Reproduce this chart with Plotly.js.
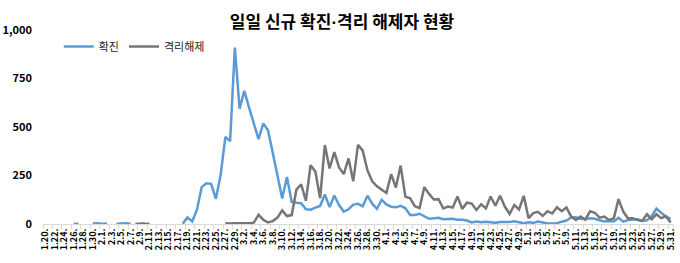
<!DOCTYPE html>
<html>
<head>
<meta charset="utf-8">
<script src="https://cdn.plot.ly/plotly-3.0.1.min.js"></script>
<style>
  html, body { margin: 0; padding: 0; background: #fff; }
  #chart { width: 680px; height: 263px; }
</style>
</head>
<body>
<div id="chart"></div>
<script>
// Categories (dates, 2020)
const dates = [
  "1.20.","1.21.","1.22.","1.23.","1.24.","1.25.","1.26.","1.27.","1.28.","1.29.","1.30.","1.31.",
  "2.1.","2.2.","2.3.","2.4.","2.5.","2.6.","2.7.","2.8.","2.9.","2.10.","2.11.","2.12.","2.13.","2.14.","2.15.","2.16.","2.17.","2.18.","2.19.","2.20.","2.21.","2.22.","2.23.","2.24.","2.25.","2.26.","2.27.","2.28.","2.29.",
  "3.1.","3.2.","3.3.","3.4.","3.5.","3.6.","3.7.","3.8.","3.9.","3.10.","3.11.","3.12.","3.13.","3.14.","3.15.","3.16.","3.17.","3.18.","3.19.","3.20.","3.21.","3.22.","3.23.","3.24.","3.25.","3.26.","3.27.","3.28.","3.29.","3.30.","3.31.",
  "4.1.","4.2.","4.3.","4.4.","4.5.","4.6.","4.7.","4.8.","4.9.","4.10.","4.11.","4.12.","4.13.","4.14.","4.15.","4.16.","4.17.","4.18.","4.19.","4.20.","4.21.","4.22.","4.23.","4.24.","4.25.","4.26.","4.27.","4.28.","4.29.","4.30.",
  "5.1.","5.2.","5.3.","5.4.","5.5.","5.6.","5.7.","5.8.","5.9.","5.10.","5.11.","5.12.","5.13.","5.14.","5.15.","5.16.","5.17.","5.18.","5.19.","5.20.","5.21.","5.22.","5.23.","5.24.","5.25.","5.26.","5.27.","5.28.","5.29.","5.30.","5.31."
];

// 확진 (new confirmed) — null = no entry
const confirmed = [
  1,null,null,null,1,null,1,1,null,null,3,4,
  1,3,null,1,3,4,1,null,3,1,null,null,null,null,null,2,null,1,34,13,74,190,210,207,130,253,449,427,909,
  595,686,600,516,438,518,483,367,248,131,242,114,110,107,76,74,84,93,152,87,147,98,64,76,100,104,91,146,105,78,125,
  101,89,86,94,81,47,47,53,39,27,30,32,25,27,27,22,22,18,8,13,9,11,8,6,10,10,10,14,9,4,
  9,6,13,8,3,2,4,12,18,34,35,27,26,29,27,19,13,15,13,32,12,20,23,25,16,19,40,79,58,39,27
];

// 격리해제 (released from isolation)
const released = [
  null,null,null,null,null,null,null,null,null,null,null,null,
  null,null,null,null,null,null,null,1,1,1,1,null,null,null,null,null,null,null,null,null,null,null,null,null,null,null,4,2,4,
  3,3,4,7,47,22,8,15,33,70,41,46,177,204,120,303,270,133,407,286,370,292,257,338,220,408,378,276,220,194,175,
  160,257,188,301,141,132,92,82,190,155,126,128,80,90,85,142,78,110,105,72,102,80,142,94,146,90,52,98,75,145,
  30,56,63,42,66,54,86,66,85,38,21,38,22,66,58,33,38,21,29,128,64,29,30,21,16,50,25,50,30,40,8
];

const yTicks = [0, 250, 500, 750, 1000];
const yTickText = ["0", "250", "500", "750", "1,000"];
const xTickVals = dates.filter((d, i) => i % 2 === 0);

const FONT = "'Noto Sans CJK KR', 'Noto Sans', sans-serif";

const traces = [
  { x: dates, y: confirmed, name: "확진", type: "scatter", mode: "lines",
    line: { color: "#5B9BD5", width: 2.5 }, connectgaps: false },
  { x: dates, y: released, name: "격리해제", type: "scatter", mode: "lines",
    line: { color: "#767676", width: 2.5 }, connectgaps: false }
];

const layout = {
  width: 680, height: 263,
  margin: { l: 43, r: 7, t: 30, b: 39 },
  paper_bgcolor: "#fff", plot_bgcolor: "#fff",
  font: { family: FONT, color: "#000" },
  title: {
    text: "<b>일일 신규 확진<span style=\"font-family:'Liberation Sans'\">·</span>격리 해제자 현황</b>",
    font: { family: FONT, size: 17, color: "#000" },
    x: 0.503, xref: "container", xanchor: "center",
    y: 0.915, yref: "container", yanchor: "middle"
  },
  showlegend: true,
  legend: {
    orientation: "h", x: 0.025, xanchor: "left", y: 0.915, yanchor: "middle",
    font: { family: FONT, size: 11, color: "#222" },
    bgcolor: "rgba(0,0,0,0)", itemwidth: 30, tracegroupgap: 0
  },
  xaxis: {
    type: "category", range: [-0.5, dates.length - 0.5],
    tickmode: "array", tickvals: xTickVals, ticktext: xTickVals,
    tickangle: -90, tickfont: { family: FONT, size: 9, color: "#000", weight: "bold" },
    ticks: "outside", ticklen: 4, tickcolor: "#d9d9d9", tickson: "boundaries",
    showline: true, linecolor: "#d9d9d9", linewidth: 1,
    showgrid: false, zeroline: false, fixedrange: true
  },
  yaxis: {
    range: [0, 1000], tickmode: "array", tickvals: yTicks, ticktext: yTickText,
    tickfont: { family: FONT, size: 11, color: "#000", weight: "bold" },
    ticks: "", ticklabelstandoff: 10,
    showline: false, showgrid: false, zeroline: false, fixedrange: true
  }
};

Plotly.newPlot("chart", traces, layout, { displayModeBar: false, staticPlot: true });
</script>
</body>
</html>
